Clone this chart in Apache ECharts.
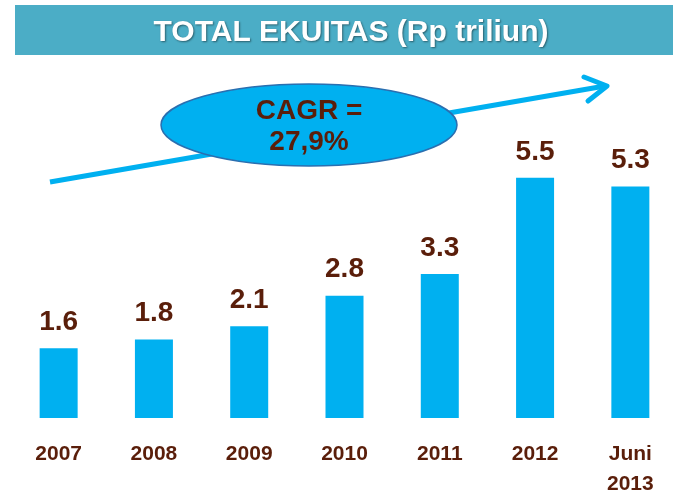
<!DOCTYPE html>
<html>
<head>
<meta charset="utf-8">
<script src="https://cdn.jsdelivr.net/npm/echarts@6/dist/echarts.min.js"></script>
<style>
html, body { margin: 0; padding: 0; background: #fff; }
#chart { width: 673px; height: 492px; }
</style>
</head>
<body>
<div id="chart"></div>
<script>
// data
const years = ['2007', '2008', '2009', '2010', '2011', '2012', 'Juni\n2013'];
const ekuitas = [1.6, 1.8, 2.1, 2.8, 3.3, 5.5, 5.3];
const titleText = 'TOTAL EKUITAS (Rp triliun)';
const cagrText = 'CAGR =\n27,9%';

const brown = '#5a1e0a';
const blue = '#00b0f0';

const chart = echarts.init(document.getElementById('chart'));
chart.setOption({
    backgroundColor: '#fff',
    animation: false,
    title: {
        text: titleText,
        left: 346,
        top: 13,
        textAlign: 'center',
        textStyle: {
            color: '#fff',
            fontFamily: 'Liberation Sans',
            fontWeight: 'bold',
            fontSize: 30,
            textShadowColor: 'rgba(0,0,0,0.45)',
            textShadowBlur: 2,
            textShadowOffsetX: 1,
            textShadowOffsetY: 1
        }
    },
    grid: {
        left: 11,
        width: 667,
        top: 156,
        bottom: 74,
        outerBoundsMode: 'none'
    },
    xAxis: {
        type: 'category',
        data: years,
        axisLine: { show: false },
        axisTick: { show: false },
        axisLabel: {
            color: brown,
            fontFamily: 'Liberation Sans',
            fontWeight: 'bold',
            fontSize: 21,
            margin: 21,
            lineHeight: 30
        }
    },
    yAxis: {
        type: 'value',
        min: 0,
        max: 6,
        show: false,
        splitLine: { show: false }
    },
    series: [{
        type: 'bar',
        data: ekuitas,
        barWidth: 38,
        itemStyle: { color: blue },
        label: {
            show: true,
            position: 'top',
            distance: 12,
            color: brown,
            fontFamily: 'Liberation Sans',
            fontWeight: 'bold',
            fontSize: 28,
            formatter: p => p.value.toFixed(1)
        }
    }],
    graphic: [
        {
            type: 'rect',
            shape: { x: 15, y: 5, width: 670, height: 50 },
            style: { fill: '#4badc6' },
            z: -1
        },
        {
            type: 'line',
            shape: { x1: 50, y1: 182, x2: 605, y2: 86 },
            style: { stroke: blue, lineWidth: 5 },
            z: 1
        },
        {
            type: 'polyline',
            shape: { points: [[584, 77], [607, 86], [588, 101]] },
            style: { stroke: blue, lineWidth: 5, fill: null, lineCap: 'round', lineJoin: 'round' },
            z: 1
        },
        {
            type: 'ellipse',
            shape: { cx: 309, cy: 125, rx: 148, ry: 41 },
            style: { fill: blue, stroke: '#2a6fb0', lineWidth: 1.5 },
            z: 2
        },
        {
            type: 'text',
            x: 309,
            y: 127,
            style: {
                text: cagrText,
                fill: brown,
                font: 'bold 28px "Liberation Sans"',
                align: 'center',
                verticalAlign: 'middle',
                lineHeight: 31
            },
            z: 3
        }
    ]
});
</script>
</body>
</html>
